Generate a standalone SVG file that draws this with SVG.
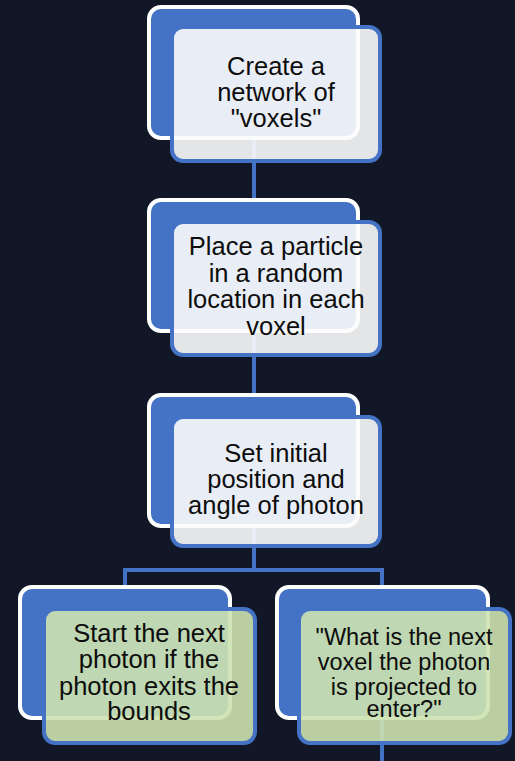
<svg xmlns="http://www.w3.org/2000/svg" width="515" height="761" viewBox="0 0 515 761">
  <style>
    .bg { fill: #111726; }
    .back { fill: #4472c4; stroke: #ffffff; stroke-width: 4; }
    .front { fill: #fcfcfc; fill-opacity: 0.9; stroke: #4472c4; stroke-width: 4; }
    .front.green { fill: #cde2b0; fill-opacity: 0.9; }
    .link { fill: none; stroke: #4472c4; stroke-width: 4; }
    text { font-family: "Liberation Sans", Arial, sans-serif; fill: #0d0d0d; text-anchor: middle; }
    .t26 { font-size: 25.5px; }
    .t24 { font-size: 23.5px; }
  </style>
  <rect class="bg" x="0" y="0" width="515" height="761"/>

  <!-- connectors run between the centres of the back panels -->
  <g id="connectors">
    <path class="link" d="M254 138 V200"/>
    <path class="link" d="M254 333 V395"/>
    <path class="link" d="M254 528 V570 M125 570 H382 M125 568 V588 M382 568 V588"/>
    <path class="link" d="M382 718 V761"/>
  </g>

  <g id="node-voxels">
    <rect class="back" x="149" y="7" width="209" height="131" rx="12"/>
    <rect class="front" x="172" y="27" width="208" height="134" rx="11"/>
    <text class="t26" x="276" y="75">Create a</text>
    <text class="t26" x="276" y="101">network of</text>
    <text class="t26" x="276" y="127">"voxels"</text>
  </g>

  <g id="node-particle">
    <rect class="back" x="149" y="200" width="209" height="131" rx="12"/>
    <rect class="front" x="172" y="222" width="208" height="133" rx="11"/>
    <text class="t26" x="276" y="255">Place a particle</text>
    <text class="t26" x="276" y="282">in a random</text>
    <text class="t26" x="276" y="308">location in each</text>
    <text class="t26" x="276" y="335">voxel</text>
  </g>

  <g id="node-photon">
    <rect class="back" x="149" y="395" width="209" height="131" rx="12"/>
    <rect class="front" x="172" y="417" width="208" height="129" rx="11"/>
    <text class="t26" x="276" y="462">Set initial</text>
    <text class="t26" x="276" y="488">position and</text>
    <text class="t26" x="276" y="514">angle of photon</text>
  </g>

  <g id="node-exit">
    <rect class="back" x="20" y="587" width="210" height="131" rx="12"/>
    <rect class="front green" x="44" y="609" width="211" height="134" rx="11"/>
    <text class="t26" x="149" y="642">Start the next</text>
    <text class="t26" x="149" y="668">photon if the</text>
    <text class="t26" x="149" y="695">photon exits the</text>
    <text class="t26" x="149" y="720">bounds</text>
  </g>

  <g id="node-next-voxel">
    <rect class="back" x="277" y="587" width="211" height="131" rx="12"/>
    <rect class="front green" x="299" y="609" width="211" height="134" rx="11"/>
    <text class="t24" x="404" y="645">"What is the next</text>
    <text class="t24" x="404" y="670">voxel the photon</text>
    <text class="t24" x="404" y="695">is projected to</text>
    <text class="t24" x="404" y="717">enter?"</text>
  </g>
</svg>
